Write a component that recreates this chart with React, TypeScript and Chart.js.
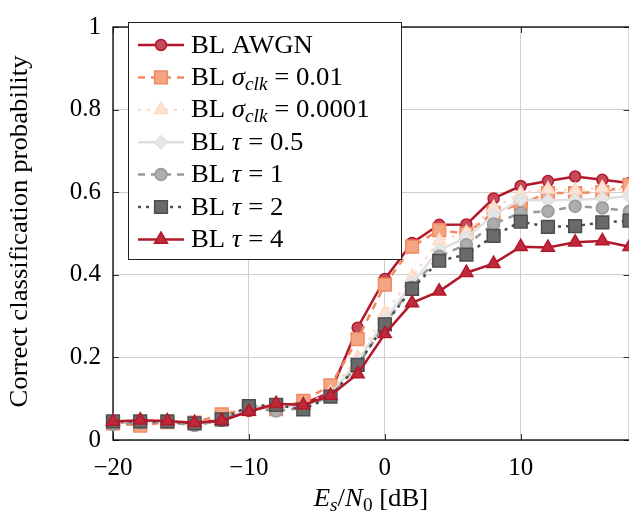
import React, { useEffect, useRef } from 'react';
import { Chart, registerables } from 'chart.js';

Chart.register(...registerables);

// ---------------- data ----------------
const snrDb = [-20, -18, -16, -14, -12, -10, -8, -6, -4, -2, 0, 2, 4, 6, 8, 10, 12, 14, 16, 18];

const blAwgn = [0.042, 0.045, 0.044, 0.040, 0.046, 0.070, 0.085, 0.088, 0.115, 0.272, 0.390, 0.477, 0.521, 0.522, 0.585, 0.615, 0.627, 0.638, 0.630, 0.622];
const blSigma001 = [0.040, 0.035, 0.043, 0.042, 0.062, 0.075, 0.075, 0.095, 0.132, 0.244, 0.376, 0.468, 0.508, 0.500, 0.550, 0.572, 0.598, 0.598, 0.600, 0.618];
const blSigma00001 = [0.043, 0.044, 0.044, 0.041, 0.050, 0.078, 0.082, 0.085, 0.115, 0.200, 0.307, 0.395, 0.482, 0.502, 0.562, 0.597, 0.607, 0.605, 0.610, 0.605];
const blTau05 = [0.043, 0.044, 0.044, 0.040, 0.049, 0.080, 0.083, 0.080, 0.110, 0.190, 0.290, 0.380, 0.460, 0.490, 0.545, 0.582, 0.580, 0.582, 0.585, 0.590];
const blTau1 = [0.038, 0.042, 0.043, 0.035, 0.048, 0.078, 0.070, 0.078, 0.106, 0.180, 0.280, 0.370, 0.445, 0.473, 0.523, 0.550, 0.554, 0.566, 0.562, 0.554];
const blTau2 = [0.045, 0.045, 0.045, 0.040, 0.050, 0.082, 0.085, 0.074, 0.105, 0.182, 0.280, 0.366, 0.434, 0.449, 0.494, 0.529, 0.516, 0.518, 0.527, 0.531];
const blTau4 = [0.045, 0.048, 0.046, 0.042, 0.047, 0.069, 0.088, 0.085, 0.108, 0.160, 0.257, 0.332, 0.360, 0.405, 0.427, 0.468, 0.466, 0.479, 0.482, 0.468];

const xTickValues = [-20, -10, 0, 10];
const yTickValues = [0, 0.2, 0.4, 0.6, 0.8, 1];

type Part = { t: string; it?: boolean; sub?: boolean };

const legendLabels: Part[][] = [
  [{ t: 'BL AWGN' }],
  [{ t: 'BL ' }, { t: 'σ', it: true }, { t: 'clk', it: true, sub: true }, { t: ' = 0.01' }],
  [{ t: 'BL ' }, { t: 'σ', it: true }, { t: 'clk', it: true, sub: true }, { t: ' = 0.0001' }],
  [{ t: 'BL ' }, { t: 'τ', it: true }, { t: ' = 0.5' }],
  [{ t: 'BL ' }, { t: 'τ', it: true }, { t: ' = 1' }],
  [{ t: 'BL ' }, { t: 'τ', it: true }, { t: ' = 2' }],
  [{ t: 'BL ' }, { t: 'τ', it: true }, { t: ' = 4' }],
];

const xTitle: Part[] = [
  { t: 'E', it: true }, { t: 's', it: true, sub: true }, { t: '/' },
  { t: 'N', it: true }, { t: '0', sub: true }, { t: ' [dB]' },
];
const yTitle = 'Correct classification probability';

// ---------------- styles ----------------
const SERIF = '"Liberation Serif", "DejaVu Serif", serif';
const FS = 25;
const STRETCH = 1.07;

type Style = { color: string; fill: string; dash: number[]; point: string; radius: number };
const styles: Style[] = [
  { color: '#b2182b', fill: '#c44a5a', dash: [], point: 'circle', radius: 5.5 },
  { color: '#ef8a62', fill: '#f3a584', dash: [7, 6], point: 'rect', radius: 9 },
  { color: '#fddbc7', fill: '#fde3d3', dash: [3, 6], point: 'triangle', radius: 7.5 },
  { color: '#e0e0e0', fill: '#e6e6e6', dash: [], point: 'rectRot', radius: 6.5 },
  { color: '#999999', fill: '#adadad', dash: [7, 6], point: 'circle', radius: 6 },
  { color: '#4d4d4d', fill: '#6a6a6a', dash: [3, 5], point: 'rect', radius: 9 },
  { color: '#b2182b', fill: '#c0283b', dash: [], point: 'triangle', radius: 7.5 },
];
const seriesValues = [blAwgn, blSigma001, blSigma00001, blTau05, blTau1, blTau2, blTau4];

function drawRich(ctx: CanvasRenderingContext2D, parts: Part[], x: number, y: number, size: number, align: 'left' | 'center') {
  const fontFor = (p: Part) => `${p.it ? 'italic ' : ''}${p.sub ? Math.round(size * 0.72) : size}px ${SERIF}`;
  let w = 0;
  for (const p of parts) { ctx.font = fontFor(p); w += ctx.measureText(p.t).width; }
  w *= STRETCH;
  const x0 = align === 'center' ? x - w / 2 : x;
  ctx.save();
  ctx.translate(x0, y);
  ctx.scale(STRETCH, 1);
  ctx.textAlign = 'left';
  ctx.textBaseline = 'alphabetic';
  let cx = 0;
  for (const p of parts) {
    ctx.font = fontFor(p);
    ctx.fillText(p.t, cx, p.sub ? size * 0.2 : 0);
    cx += ctx.measureText(p.t).width;
  }
  ctx.restore();
}

function drawMarker(ctx: CanvasRenderingContext2D, s: Style, x: number, y: number) {
  const r = s.radius;
  ctx.beginPath();
  if (s.point === 'circle') {
    ctx.arc(x, y, r, 0, Math.PI * 2);
  } else if (s.point === 'rect') {
    const h = Math.SQRT1_2 * r;
    ctx.rect(x - h, y - h, 2 * h, 2 * h);
  } else if (s.point === 'triangle') {
    let a = 0;
    ctx.moveTo(x + Math.sin(a) * r, y - Math.cos(a) * r);
    a += (2 * Math.PI) / 3;
    ctx.lineTo(x + Math.sin(a) * r, y - Math.cos(a) * r);
    a += (2 * Math.PI) / 3;
    ctx.lineTo(x + Math.sin(a) * r, y - Math.cos(a) * r);
    ctx.closePath();
  } else if (s.point === 'rectRot') {
    ctx.moveTo(x - r, y);
    ctx.lineTo(x, y - r);
    ctx.lineTo(x + r, y);
    ctx.lineTo(x, y + r);
    ctx.closePath();
  }
  ctx.fill();
  ctx.stroke();
}

const framePlugin = {
  id: 'frame',
  beforeDatasetsDraw(chart: any) {
    const { ctx, chartArea: a, scales } = chart;
    ctx.save();
    ctx.strokeStyle = '#333';
    ctx.lineWidth = 1;
    for (const v of xTickValues) {
      const px = Math.round(scales.x.getPixelForValue(v)) + 0.5;
      ctx.beginPath();
      ctx.moveTo(px, a.bottom); ctx.lineTo(px, a.bottom - 6);
      ctx.moveTo(px, a.top); ctx.lineTo(px, a.top + 6);
      ctx.stroke();
    }
    for (const v of yTickValues) {
      const py = Math.round(scales.y.getPixelForValue(v)) + 0.5;
      ctx.beginPath();
      ctx.moveTo(a.left, py); ctx.lineTo(a.left + 6, py);
      ctx.moveTo(a.right, py); ctx.lineTo(a.right - 6, py);
      ctx.stroke();
    }
    ctx.strokeStyle = '#000';
    ctx.lineWidth = 1.3;
    ctx.strokeRect(a.left, a.top, a.right - a.left, a.bottom - a.top);
    ctx.restore();
  },
  afterDatasetsDraw(chart: any) {
    const { ctx, chartArea: a } = chart;
    ctx.save();
    // legend box
    const bx = 128.5, by = 22.5, bw = 273, bh = 237;
    ctx.fillStyle = '#fff';
    ctx.fillRect(bx, by, bw, bh);
    ctx.strokeStyle = '#222';
    ctx.lineWidth = 1;
    ctx.strokeRect(bx, by, bw, bh);
    const rowH = 32.4;
    styles.forEach((s, i) => {
      const ry = 45 + i * rowH;
      ctx.strokeStyle = s.color;
      ctx.lineWidth = 2.5;
      ctx.setLineDash(s.dash);
      ctx.beginPath();
      ctx.moveTo(138, ry);
      ctx.lineTo(184, ry);
      ctx.stroke();
      ctx.setLineDash([]);
      ctx.lineWidth = 1.5;
      ctx.fillStyle = s.fill;
      drawMarker(ctx, s, 161, ry);
      ctx.fillStyle = '#000';
      drawRich(ctx, legendLabels[i], 191, ry + 7.5, FS, 'left');
    });
    // axis titles
    ctx.fillStyle = '#000';
    drawRich(ctx, xTitle, 371, 506, FS, 'center');
    ctx.translate(20, (a.top + a.bottom) / 2 - 2);
    ctx.rotate(-Math.PI / 2);
    ctx.scale(STRETCH, 1);
    ctx.font = `${FS}px ${SERIF}`;
    ctx.textAlign = 'center';
    ctx.textBaseline = 'middle';
    ctx.fillText(yTitle, 0, 0);
    ctx.restore();
  },
};

export default function App() {
  const ref = useRef<HTMLCanvasElement | null>(null);
  useEffect(() => {
    if (!ref.current) return;
    const n = styles.length;
    const chart = new Chart(ref.current, {
      type: 'line',
      data: {
        datasets: seriesValues.map((vals, i) => {
          const s = styles[i];
          return {
            label: `s${i}`,
            data: snrDb.map((x, k) => ({ x, y: vals[k] })),
            borderColor: s.color,
            backgroundColor: s.fill,
            borderWidth: 2.5,
            borderDash: s.dash,
            pointStyle: s.point as any,
            pointRadius: s.radius,
            pointHoverRadius: s.radius,
            pointBorderWidth: 1.5,
            pointBorderColor: s.color,
            pointBackgroundColor: s.fill,
            tension: 0,
            fill: false,
            clip: false as any,
            order: n - i,
          };
        }),
      },
      options: {
        responsive: false,
        animation: false,
        devicePixelRatio: 1,
        layout: { padding: { top: 12, right: 9, left: 0, bottom: 0 } },
        plugins: { legend: { display: false }, tooltip: { enabled: false } },
        scales: {
          x: {
            type: 'linear',
            min: -20,
            max: 18,
            afterBuildTicks: (scale: any) => { scale.ticks = xTickValues.map((v) => ({ value: v })); },
            afterFit: (scale: any) => { scale.height = 80; },
            grid: { color: '#cfcfcf', lineWidth: 1, drawTicks: false },
            border: { display: false },
            ticks: {
              padding: 13,
              color: '#000',
              font: { family: SERIF, size: FS },
              maxRotation: 0,
              callback: (v: any) => (Number(v) < 0 ? '−' + Math.abs(Number(v)) : String(v)),
            },
          },
          y: {
            type: 'linear',
            min: 0,
            max: 1,
            afterBuildTicks: (scale: any) => { scale.ticks = yTickValues.map((v) => ({ value: v })); },
            afterFit: (scale: any) => { scale.width = 113; },
            grid: { color: '#cfcfcf', lineWidth: 1, drawTicks: false },
            border: { display: false },
            ticks: {
              padding: 12,
              color: '#000',
              font: { family: SERIF, size: FS },
              callback: (v: any) => String(Math.round(Number(v) * 10) / 10),
            },
          },
        },
      },
      plugins: [framePlugin],
    });
    return () => chart.destroy();
  }, []);
  return (
    <div style={{ position: 'fixed', left: 0, top: 0, width: 629, height: 520, overflow: 'hidden', background: '#fff' }}>
      <canvas ref={ref} width={640} height={520} style={{ width: 640, height: 520, display: 'block' }} />
    </div>
  );
}
